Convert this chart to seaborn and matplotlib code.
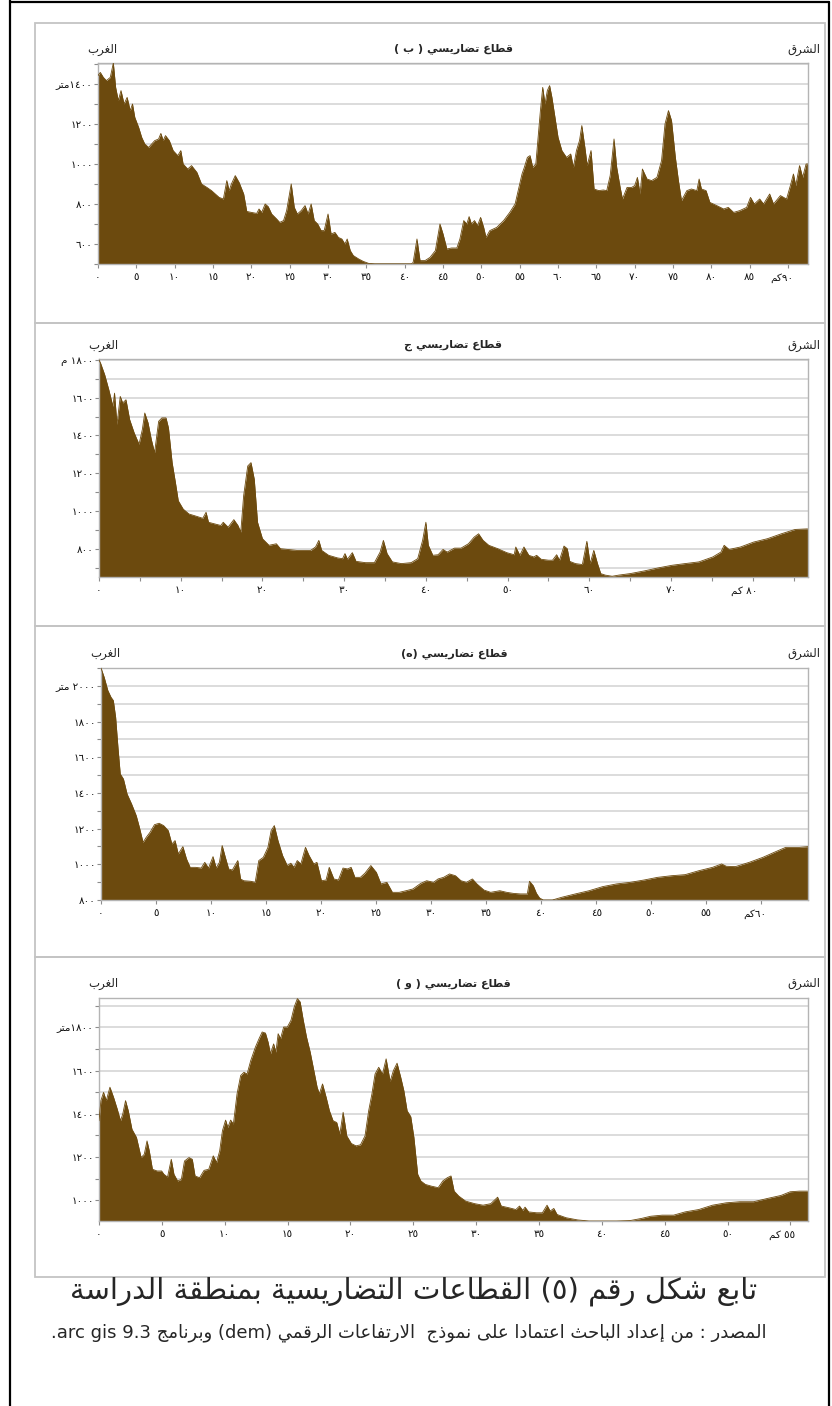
import re
import matplotlib
matplotlib.use('Agg')
import matplotlib.pyplot as plt
import matplotlib.transforms as mtransforms
from matplotlib.patches import Rectangle
from matplotlib.lines import Line2D
import seaborn as sns

# --- profile (b): distance km / elevation m ---
km_b = [0.0, 0.3, 0.7, 1.1, 1.6, 2.0, 2.3, 2.65, 3.0, 3.4,
        3.8, 4.2, 4.5, 4.8, 5.3, 5.7, 6.1, 6.6, 7.0, 7.4,
        7.9, 8.2, 8.5, 8.8, 9.3, 9.8, 10.4, 10.8, 11.1, 11.7,
        12.2, 12.9, 13.5, 14.2, 14.8, 15.3, 15.8, 16.35, 16.8, 17.1,
        17.4, 17.9, 18.4, 19.0, 19.4, 20.0, 20.7, 21.0, 21.35, 21.8,
        22.2, 22.65, 23.3, 23.7, 24.2, 24.6, 25.2, 25.6, 26.0, 26.5,
        27.0, 27.4, 27.8, 28.2, 28.65, 29.1, 29.5, 30.0, 30.4, 30.9,
        31.35, 31.8, 32.2, 32.5, 32.9, 33.3, 34.0, 34.6, 35.3, 36.1,
        40.9, 41.1, 41.6, 42.0, 42.65, 43.3, 44.0, 44.6, 45.0, 45.5,
        46.1, 46.8, 47.2, 47.7, 48.1, 48.4, 48.7, 49.1, 49.5, 49.9,
        50.3, 50.6, 51.1, 52.0, 52.9, 53.7, 54.4, 54.8, 55.3, 55.6,
        56.0, 56.35, 56.7, 57.1, 57.4, 57.7, 58.0, 58.3, 58.6, 58.9,
        59.2, 59.6, 60.0, 60.5, 61.1, 61.65, 62.0, 62.4, 62.8, 63.1,
        63.5, 63.8, 64.3, 64.7, 65.3, 65.9, 66.35, 66.8, 67.3, 67.65,
        68.1, 68.4, 69.0, 69.6, 70.0, 70.35, 70.7, 71.0, 71.6, 72.2,
        72.9, 73.5, 73.95, 74.4, 74.8, 75.3, 75.7, 76.1, 76.8, 77.4,
        78.1, 78.4, 78.7, 79.3, 79.8, 80.7, 81.6, 82.2, 82.9, 83.7,
        84.6, 85.1, 85.6, 86.3, 86.8, 87.6, 88.1, 89.0, 89.8, 90.3,
        90.7, 91.0, 91.5, 91.9, 92.35, 92.6]
elev_b = [1442, 1458, 1433, 1417, 1433, 1505, 1383, 1317, 1367, 1300,
          1333, 1267, 1300, 1233, 1183, 1133, 1100, 1083, 1100, 1117,
          1125, 1153, 1117, 1142, 1117, 1067, 1042, 1067, 1000, 975,
          992, 958, 900, 883, 867, 850, 833, 825, 917, 867,
          900, 942, 908, 850, 763, 758, 753, 775, 758, 800,
          787, 750, 725, 708, 717, 767, 900, 783, 750, 767,
          792, 750, 800, 717, 700, 667, 667, 750, 650, 658,
          633, 625, 600, 625, 567, 542, 525, 513, 503, 501,
          501, 508, 625, 517, 517, 533, 567, 700, 650, 575,
          580, 580, 625, 717, 700, 737, 700, 717, 692, 733,
          683, 633, 667, 683, 717, 758, 800, 867, 950, 983,
          1033, 1042, 983, 1000, 1133, 1267, 1383, 1300, 1367, 1392,
          1333, 1233, 1133, 1067, 1033, 1050, 983, 1067, 1117, 1192,
          1083, 992, 1067, 875, 867, 870, 867, 942, 1125, 983,
          883, 825, 883, 883, 892, 933, 850, 975, 925, 917,
          933, 1017, 1200, 1267, 1217, 1033, 917, 817, 867, 875,
          867, 925, 875, 867, 808, 792, 775, 783, 758, 767,
          783, 833, 800, 825, 800, 850, 800, 842, 825, 892,
          950, 892, 992, 933, 1000, 1000]

# --- profile (j) ---
km_j = [0.0, 0.2, 0.7, 1.2, 1.7, 1.9, 2.2, 2.6, 2.9, 3.3,
        3.75, 4.3, 4.9, 5.3, 5.6, 6.0, 6.4, 6.8, 7.3, 7.7,
        8.2, 8.5, 8.95, 9.35, 9.7, 10.3, 11.0, 11.9, 12.7, 13.1,
        13.4, 14.1, 14.9, 15.2, 15.8, 16.5, 17.0, 17.35, 17.7, 18.2,
        18.6, 19.0, 19.4, 20.0, 20.8, 21.7, 22.2, 23.1, 24.2, 25.9,
        26.5, 26.9, 27.25, 28.1, 29.2, 29.8, 30.1, 30.4, 31.0, 31.45,
        32.6, 33.7, 34.4, 34.8, 35.25, 35.9, 37.0, 38.2, 39.0, 39.6,
        40.0, 40.3, 40.85, 41.5, 42.1, 42.6, 43.5, 44.3, 45.2, 45.9,
        46.45, 47.0, 47.7, 48.8, 49.9, 50.8, 51.0, 51.5, 52.0, 52.6,
        53.2, 53.55, 54.1, 55.0, 55.5, 56.0, 56.35, 56.9, 57.3, 57.6,
        58.3, 59.15, 59.7, 60.1, 60.55, 61.0, 61.4, 61.95, 62.8, 63.6,
        65.0, 66.7, 68.4, 70.1, 71.7, 73.4, 75.1, 76.1, 76.5, 77.1,
        78.5, 80.1, 81.8, 83.5, 85.2, 86.7]
elev_j = [1800, 1782, 1721, 1642, 1554, 1624, 1458, 1607, 1572, 1589,
          1484, 1414, 1353, 1431, 1519, 1467, 1379, 1309, 1475, 1493,
          1493, 1440, 1256, 1151, 1054, 1010, 984, 972, 961, 993,
          940, 932, 923, 940, 914, 954, 923, 888, 1081, 1238,
          1256, 1168, 940, 853, 818, 826, 800, 796, 791, 791,
          809, 844, 791, 765, 751, 747, 774, 744, 779, 733,
          726, 726, 782, 844, 774, 730, 721, 726, 747, 844,
          940, 818, 765, 768, 796, 782, 803, 803, 826, 861,
          879, 844, 818, 800, 779, 768, 809, 765, 809, 765,
          756, 765, 744, 739, 739, 768, 739, 814, 800, 733,
          721, 716, 839, 721, 791, 721, 668, 660, 654, 660,
          668, 682, 698, 712, 721, 730, 756, 782, 818, 796,
          809, 835, 853, 879, 902, 905]

# --- profile (h) ---
km_h = [0.0, 0.29, 0.62, 0.91, 1.12, 1.33, 1.54, 1.75, 2.04, 2.37,
        2.78, 3.2, 3.49, 3.82, 4.11, 4.45, 4.86, 5.28, 5.69, 6.11,
        6.44, 6.73, 7.02, 7.44, 7.77, 8.1, 8.6, 9.1, 9.43, 9.77,
        10.18, 10.47, 10.76, 11.01, 11.3, 11.6, 11.93, 12.43, 12.68, 12.97,
        13.59, 14.01, 14.34, 14.75, 15.17, 15.46, 15.75, 16.08, 16.5, 16.92,
        17.25, 17.54, 17.83, 18.16, 18.58, 18.91, 19.33, 19.62, 20.03, 20.45,
        20.74, 21.16, 21.57, 21.99, 22.4, 22.73, 23.07, 23.57, 23.98, 24.52,
        25.02, 25.44, 25.98, 26.48, 27.1, 27.72, 28.35, 29.05, 29.59, 30.22,
        30.63, 31.13, 31.67, 32.21, 32.71, 33.21, 33.75, 34.16, 34.79, 35.41,
        36.24, 36.87, 37.49, 38.11, 38.74, 38.94, 39.28, 39.57, 39.86, 40.19,
        41.02, 41.85, 43.1, 44.35, 45.59, 46.84, 48.09, 49.34, 50.58, 51.83,
        53.08, 54.32, 55.57, 56.4, 56.82, 57.65, 58.9, 60.14, 61.39, 62.22,
        63.47, 64.22]
elev_h = [2100, 2048, 1974, 1936, 1918, 1824, 1656, 1506, 1478, 1394,
          1338, 1273, 1207, 1123, 1151, 1179, 1222, 1230, 1217, 1189,
          1114, 1133, 1058, 1099, 1030, 983, 983, 979, 1011, 979,
          1043, 979, 1011, 1105, 1039, 974, 968, 1021, 918, 908,
          905, 899, 1021, 1039, 1095, 1189, 1217, 1133, 1049, 993,
          1006, 983, 1021, 1002, 1095, 1049, 1002, 1011, 908, 912,
          983, 918, 912, 979, 974, 983, 927, 927, 950, 993,
          955, 890, 899, 843, 843, 852, 862, 893, 908, 899,
          918, 927, 946, 936, 908, 899, 918, 890, 856, 843,
          852, 843, 837, 834, 834, 905, 880, 837, 811, 800,
          800, 815, 834, 852, 875, 890, 899, 912, 927, 936,
          942, 964, 983, 1002, 989, 987, 1011, 1039, 1073, 1095,
          1095, 1099]

# --- profile (w) ---
km_w = [0.0, 0.15, 0.36, 0.58, 0.87, 1.16, 1.45, 1.71, 1.89, 2.11,
        2.33, 2.62, 2.98, 3.35, 3.6, 3.82, 4.0, 4.25, 4.62, 4.98,
        5.16, 5.45, 5.75, 5.96, 6.25, 6.55, 6.8, 7.16, 7.42, 7.64,
        8.0, 8.36, 8.73, 9.09, 9.35, 9.6, 9.82, 10.07, 10.25, 10.47,
        10.69, 10.98, 11.27, 11.53, 11.78, 12.07, 12.44, 12.73, 12.98, 13.24,
        13.45, 13.64, 13.89, 14.07, 14.25, 14.44, 14.69, 14.98, 15.27, 15.53,
        15.78, 16.0, 16.25, 16.51, 16.8, 17.09, 17.35, 17.53, 17.78, 18.07,
        18.33, 18.62, 18.91, 19.16, 19.42, 19.71, 20.07, 20.44, 20.8, 21.16,
        21.45, 21.71, 21.96, 22.25, 22.55, 22.84, 23.16, 23.42, 23.71, 24.0,
        24.25, 24.51, 24.8, 25.05, 25.35, 25.6, 25.96, 26.44, 26.98, 27.35,
        27.71, 28.0, 28.25, 28.62, 29.16, 29.89, 30.55, 31.16, 31.71, 32.0,
        32.62, 33.16, 33.45, 33.71, 33.89, 34.18, 34.8, 35.27, 35.64, 35.89,
        36.18, 36.44, 37.16, 38.07, 38.98, 40.07, 41.16, 42.25, 43.16, 43.89,
        44.8, 45.71, 46.62, 47.71, 48.8, 49.89, 50.98, 52.07, 53.16, 54.25,
        54.98, 55.71, 56.36]
elev_w = [1368, 1461, 1499, 1461, 1523, 1476, 1422, 1368, 1399, 1461,
          1414, 1329, 1291, 1198, 1213, 1275, 1229, 1144, 1136, 1136,
          1121, 1108, 1190, 1121, 1090, 1097, 1182, 1198, 1190, 1113,
          1105, 1139, 1144, 1206, 1175, 1229, 1322, 1371, 1337, 1371,
          1353, 1492, 1577, 1592, 1584, 1646, 1708, 1747, 1778, 1773,
          1731, 1677, 1723, 1685, 1770, 1747, 1801, 1801, 1832, 1894,
          1932, 1917, 1832, 1754, 1685, 1600, 1523, 1492, 1538, 1476,
          1414, 1368, 1360, 1306, 1407, 1298, 1263, 1252, 1257, 1298,
          1414, 1492, 1584, 1615, 1584, 1654, 1550, 1600, 1634, 1569,
          1507, 1414, 1387, 1291, 1121, 1090, 1074, 1066, 1059, 1090,
          1105, 1113, 1043, 1020, 997, 985, 978, 985, 1015, 974,
          966, 958, 974, 954, 969, 947, 943, 943, 978, 951,
          963, 935, 920, 910, 905, 905, 905, 907, 917, 927,
          932, 932, 947, 958, 978, 989, 994, 994, 1009, 1023,
          1040, 1043, 1043]

titles = ['قطاع تضاريسي ( ب )', 'قطاع تضاريسي ج', 'قطاع تضاريسي (ه)', 'قطاع تضاريسي ( و )']
west_label = 'الغرب'
east_label = 'الشرق'
caption = 'تابع شكل رقم (٥) القطاعات التضاريسية بمنطقة الدراسة'
source_text = 'المصدر : من إعداد الباحث اعتمادا على نموذج  الارتفاعات الرقمي (dem) وبرنامج arc gis 9.3.'


# --- minimal Arabic shaping + right-to-left ordering (matplotlib does neither) ---
AR_LETTERS = 'ءآأؤإئابةتثجحخدذرزسشصضطظعغفقكلمنهوىي'
AR_NFORMS = [1, 2, 2, 2, 2, 4, 2, 4, 2, 4, 4, 4, 4, 4, 2, 2, 2, 2, 4, 4,
             4, 4, 4, 4, 4, 4, 4, 4, 4, 4, 4, 4, 4, 2, 2, 4]
FORMS = {}
cp = 0xFE80
for ch, n in zip(AR_LETTERS, AR_NFORMS):
    FORMS[ch] = (cp, n)
    cp += n
LAM_ALEF = {'آ': 0xFEF5, 'أ': 0xFEF7, 'إ': 0xFEF9, 'ا': 0xFEFB}
LTR_RUN = re.compile(r'[A-Za-z0-9\u0660-\u0669](?:[A-Za-z0-9\u0660-\u0669. ]*[A-Za-z0-9\u0660-\u0669])?')
MIRROR = str.maketrans('()', ')(')


def shape(s):
    out = []
    i = 0
    while i < len(s):
        ch = s[i]
        prev = s[i - 1] if i > 0 else ''
        p = prev in FORMS and FORMS[prev][1] == 4
        if ch == 'ل' and i + 1 < len(s) and s[i + 1] in LAM_ALEF:
            out.append(chr(LAM_ALEF[s[i + 1]] + (1 if p else 0)))
            i += 2
            continue
        if ch in FORMS:
            c0, n = FORMS[ch]
            nxt = s[i + 1] if i + 1 < len(s) else ''
            q = n == 4 and nxt in FORMS and FORMS[nxt][1] >= 2
            pp = p and n >= 2
            k = 3 if (pp and q) else 2 if q else 1 if pp else 0
            out.append(chr(c0 + k))
        else:
            out.append(ch)
        i += 1
    return ''.join(out)


def ar(s):
    s = shape(s)
    parts, pos = [], 0
    for m in LTR_RUN.finditer(s):
        parts.append(s[pos:m.start()][::-1].translate(MIRROR))
        parts.append(m.group())
        pos = m.end()
    parts.append(s[pos:][::-1].translate(MIRROR))
    return ''.join(reversed(parts))


DIG = str.maketrans('0123456789', '٠١٢٣٤٥٦٧٨٩')


def ind(n):
    return str(n).translate(DIG)


sns.set_theme(style='whitegrid')
plt.rcParams['font.family'] = ['DejaVu Sans']

BROWN = '#6c4a0e'
W, H = 832, 1406
fig = plt.figure(figsize=(W / 100, H / 100), dpi=100)
fig.patch.set_facecolor('white')


def frac(x0, y0, x1, y1):
    return [x0 / W, 1 - y1 / H, (x1 - x0) / W, (y1 - y0) / H]


# outer frame and panel boxes
for xs, ys in [([9.5, 9.5], [0, 1406]), ([9.5, 829], [2, 2]), ([829, 829], [2, 1406])]:
    fig.add_artist(Line2D([x / W for x in xs], [1 - y / H for y in ys], color='black', lw=1.6))
for y0, y1 in [(23, 323), (323, 626), (626, 957), (957, 1277)]:
    fig.add_artist(Rectangle((34.5 / W, 1 - y1 / H), (825 - 34.5) / W, (y1 - y0) / H,
                             transform=fig.transFigure, fill=False, ec='#c4c4c4', lw=1.3))

panels = [
    dict(km=km_b, elev=elev_b, box=(98, 63, 808, 264), ylim=(500, 1505), xmax=92.6,
         yt=range(500, 1501, 100), ylab=range(600, 1401, 200), yunit='متر', ysep='',
         xt=range(0, 91, 5), xlab=range(0, 91, 5), xunit='كم', xsep=''),
    dict(km=km_j, elev=elev_j, box=(99, 359, 807.5, 577), ylim=(650, 1805), xmax=86.7,
         yt=range(700, 1801, 100), ylab=range(800, 1801, 200), yunit='م', ysep=' ',
         xt=range(0, 86, 5), xlab=range(0, 81, 10), xunit='كم', xsep=' '),
    dict(km=km_h, elev=elev_h, box=(101, 668, 807.5, 900), ylim=(800, 2100), xmax=64.2,
         yt=range(800, 2101, 100), ylab=range(800, 2001, 200), yunit='متر', ysep=' ',
         xt=range(0, 61, 5), xlab=range(0, 61, 5), xunit='كم', xsep=''),
    dict(km=km_w, elev=elev_w, box=(99, 998, 807.5, 1221), ylim=(905, 1935), xmax=56.36,
         yt=range(1000, 1901, 100), ylab=range(1000, 1801, 200), yunit='متر', ysep='',
         xt=range(0, 56, 5), xlab=range(0, 56, 5), xunit='كم', xsep=' '),
]

for p, title in zip(panels, titles):
    x0, y0, x1, y1 = p['box']
    ax = fig.add_axes(frac(x0, y0, x1, y1))
    ax.set_facecolor('white')
    ax.fill_between(p['km'], p['elev'], p['ylim'][0] - 50, color=BROWN, lw=0, zorder=2)
    sns.lineplot(x=p['km'], y=p['elev'], ax=ax, color=BROWN, lw=0.6, zorder=3)
    ax.set_xlim(0, p['xmax'])
    ax.set_ylim(*p['ylim'])

    ax.set_yticks(list(p['yt']))
    top_lab = max(p['ylab'])
    ylabels = []
    for v in p['yt']:
        if v == top_lab:
            ylabels.append(ar(ind(v) + p['ysep'] + p['yunit']))
        elif v in p['ylab']:
            ylabels.append(ind(v))
        else:
            ylabels.append('')
    ax.set_yticklabels(ylabels)

    ax.set_xticks(list(p['xt']))
    last = max(p['xlab'])
    ax.set_xticklabels([ind(v) if (v in p['xlab'] and v != last) else '' for v in p['xt']])
    off = mtransforms.ScaledTranslation(3.5 / 72, -6.2 / 72, fig.dpi_scale_trans)
    ax.text(last, 0, ar(ind(last) + p['xsep'] + p['xunit']), transform=ax.get_xaxis_transform() + off,
            ha='right', va='top', fontsize=7.5, color='#111111')

    ax.grid(axis='y', color='#d6d6d6', lw=1.2)
    ax.grid(axis='x', visible=False)
    ax.set_axisbelow(True)
    ax.tick_params(axis='both', which='major', bottom=True, left=True, length=3, width=0.8,
                   color='#8c8c8c', labelsize=7.5, labelcolor='#111111', pad=3)
    ax.tick_params(axis='y', pad=0.8)
    for s in ax.spines.values():
        s.set_color('#b4b4b4')
        s.set_linewidth(1.0)
    ax.set_xlabel('')
    ax.set_ylabel('')

    ty = 1 - (y0 - 14) / H
    fig.text((x0 + x1) / 2 / W, ty, ar(title), ha='center', va='center', fontsize=8, fontweight='bold')
    fig.text((x0 + 4) / W, ty, ar(west_label), ha='center', va='center', fontsize=8.5)
    fig.text((x1 - 4) / W, ty, ar(east_label), ha='center', va='center', fontsize=8.5)

fig.text(414 / W, 1 - 1291 / H, ar(caption), ha='center', va='center', fontsize=21)
fig.text(409 / W, 1 - 1333 / H, ar(source_text), ha='center', va='center', fontsize=13)

fig.savefig('out.png', dpi=100, facecolor='white')
